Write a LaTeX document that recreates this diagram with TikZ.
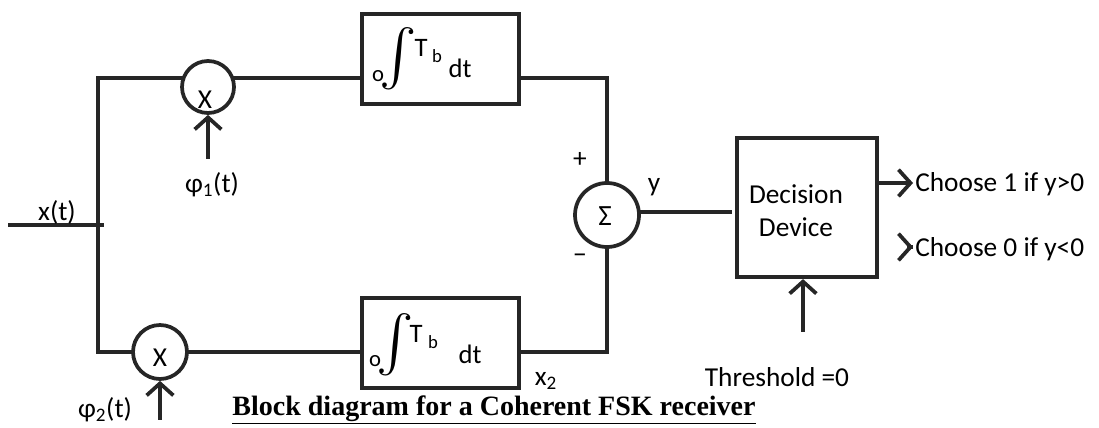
\documentclass[tikz,border=0pt]{standalone}
\usepackage{fontspec}
\setmainfont{Carlito}
\newfontfamily\capfont{Liberation Serif}
\usetikzlibrary{arrows.meta}
\begin{document}
\begin{tikzpicture}[x=0.75pt,y=-0.75pt,
  wire/.style={line width=3.1pt,line cap=rect, color=black!85},
  arr/.style={wire,-{Straight Barb[length=9pt,width=20pt,line width=2.8pt]}},
  blk/.style={draw=black!85,line width=3.1pt,rectangle,inner sep=0pt},
  mix/.style={draw=black!85,line width=2.8pt,circle,inner sep=0pt,minimum size=39pt},
  lbl/.style={font=\fontsize{20.5}{24}\selectfont,inner sep=0pt},
  bx/.style={font=\fontsize{20}{22}\selectfont,inner sep=0pt},
  sm/.style={font=\fontsize{14}{16}\selectfont,inner sep=0pt}]
\useasboundingbox (0,0) rectangle (1099,428);
% blocks
\node[blk,minimum width=117.75pt,minimum height=67.5pt] (b1) at (440.5,59) {};
\node[blk,minimum width=117.75pt,minimum height=67.5pt] (b2) at (440.5,343) {};
\node[blk,minimum width=105pt,minimum height=104.25pt] (d) at (807,207.5) {};
\node[mix] (m1) at (208,87) {};
\node[mix,minimum size=40.5pt] (m2) at (160,352) {};
\node[mix,minimum size=48pt] (s) at (607,215) {};
% texts in nodes
\node[lbl] (x1) at (205,100) {X};
\node[lbl] (x2) at (160,358) {X};
\node[font=\fontsize{22}{24}\selectfont,inner sep=0pt] (sg) at (605,216) {Σ};
% integrals
\node[font=\fontsize{17}{18}\selectfont,inner sep=0pt] (o1) at (378,76) {o};
\node[inner sep=0pt] (i1) at (398,59) {\resizebox{!}{34pt}{$\int$}};
\node[bx] (t1) at (421,48) {T};
\node[sm] (tb1) at (437,56) {b};
\node[bx] (dt1) at (460,68) {dt};
\node[font=\fontsize{17}{18}\selectfont,inner sep=0pt] (o2) at (375,361) {o};
\node[inner sep=0pt] (i2) at (395,345) {\resizebox{!}{34pt}{$\int$}};
\node[bx] (t2) at (416,334) {T};
\node[sm] (tb2) at (433,342) {b};
\node[bx] (dt2) at (470,354) {dt};
% wires
\coordinate (in) at (10,225);
\coordinate (jn) at (102,225);
\coordinate (tl) at (98,79);
\coordinate (bl) at (98,352);
\draw[wire] (in) -- (jn);
\draw[wire] (m1.162) -- (m1.162 -| tl) -- (bl) -- (m2.west);
\draw[wire] (m1.18) -- (m1.18 -| b1.west);
\draw[wire] (b1.east |- m1.18) -| (s.north);
\draw[wire] (m2.east) -- (m2.east -| b2.west);
\draw[wire] (b2.east |- m2.east) -| (s.south);
\coordinate (ye) at (730,212);
\draw[wire] (s.east |- ye) -- (ye);
\coordinate (p1) at (208,157);
\draw[arr] (p1) -- (m1.south);
\coordinate (p2) at (160,418);
\draw[arr] (p2) -- (m2.south);
\coordinate (th) at (803,330);
\draw[arr] (th) -- (th |- d.south);
\coordinate (c1) at (913,183);
\draw[arr] (c1 -| d.east) -- (c1);
\coordinate (c2a) at (911,247);
\coordinate (c2) at (913,247);
\draw[arr] (c2a) -- (c2);
% labels
\node[lbl] (lx) at (57,212) {x(t)};
\node[lbl] (lp1) at (212,185) {φ\textsubscript{1}(t)};
\node[lbl] (lp2) at (105,410) {φ\textsubscript{2}(t)};
\node[lbl] (lplus) at (580,160) {+};
\node[lbl] (lminus) at (580,259) {−};
\node[lbl] (ly) at (654,187) {y};
\node[lbl,align=center] (ld) at (796,211) {Decision\\[1pt]Device};
\node[lbl,anchor=west] (ch1) at (915,184) {Choose 1 if y>0};
\node[lbl,anchor=west] (ch0) at (915,249) {Choose 0 if y<0};
\node[lbl] (lth) at (777,377) {Threshold =0};
\node[lbl] (lx2) at (546,381) {x\textsubscript{2}};
\node[font=\capfont\bfseries\fontsize{21}{22}\selectfont,inner sep=0pt] (cap) at (494,410) {\underline{Block diagram for a Coherent FSK receiver}};
\end{tikzpicture}
\end{document}
